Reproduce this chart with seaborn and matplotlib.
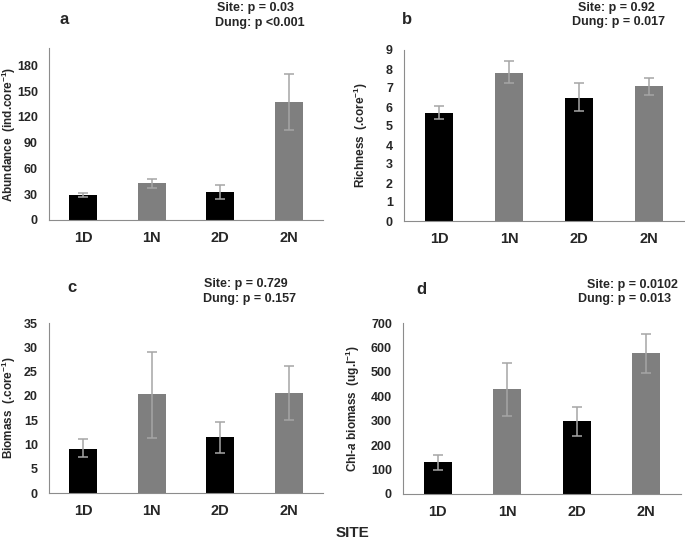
import matplotlib

matplotlib.use("Agg")
import matplotlib.pyplot as plt
import numpy as np
import pandas as pd
import seaborn as sns
from matplotlib.ticker import FixedLocator

SITES = ["1D", "1N", "2D", "2N"]

abundance = [29, 43, 32, 137]
abundance_err_low = [2, 6, 8, 32]
abundance_err_high = [2, 5, 9, 33]

richness = [5.7, 7.8, 6.5, 7.1]
richness_err_low = [0.35, 0.55, 0.7, 0.45]
richness_err_high = [0.35, 0.6, 0.75, 0.45]

biomass = [9.1, 20.3, 11.5, 20.5]
biomass_err_low = [1.7, 8.9, 3.3, 5.5]
biomass_err_high = [2.1, 8.8, 3.2, 5.6]

chla = [132, 428, 298, 577]
chla_err_low = [35, 108, 62, 82]
chla_err_high = [28, 109, 60, 80]

PANELS = [
    dict(letter="a", values=abundance, lo=abundance_err_low, hi=abundance_err_high,
         ylabel=r"Abundance  (ind.core$^{-1}$)", ymax=200, step=30, ytop=180,
         stats=["Site: p = 0.03", "Dung: p <0.001"]),
    dict(letter="b", values=richness, lo=richness_err_low, hi=richness_err_high,
         ylabel=r"Richness  (.core$^{-1}$)", ymax=9, step=1, ytop=9,
         stats=["Site: p = 0.92", "Dung: p = 0.017"]),
    dict(letter="c", values=biomass, lo=biomass_err_low, hi=biomass_err_high,
         ylabel=r"Biomass  (.core$^{-1}$)", ymax=35, step=5, ytop=35,
         stats=["Site: p = 0.729", "Dung: p = 0.157"]),
    dict(letter="d", values=chla, lo=chla_err_low, hi=chla_err_high,
         ylabel=r"Chl-$\mathit{a}$ biomass  (ug.l$^{-1}$)", ymax=700, step=100, ytop=700,
         stats=["Site: p = 0.0102", "Dung: p = 0.013"]),
]

# layout in pixels for a 685x546 figure
W, H = 685, 546
BOXES = [(49, 48, 323, 220), (404, 50, 684, 221), (49, 323, 323, 493), (403, 323, 681, 494)]
YLABEL_X = [18, 370, 18, 362]  # right edge of the rotated label
LETTER_POS = [(60, 19), (402, 19), (67, 288), (416, 290)]
STATS_POS = [((217, 8), (215, 23)), ((578, 8), (572, 22)),
             ((204, 284), (203, 299)), ((587, 285), (578, 299))]

GREY_AXIS = "#8c8c8c"
palette = {"1D": "black", "1N": "#7f7f7f", "2D": "black", "2N": "#7f7f7f"}

sns.set_style("white")
plt.rcParams["font.family"] = ["Liberation Sans", "DejaVu Sans"]
plt.rcParams["font.weight"] = "bold"
plt.rcParams["mathtext.fontset"] = "custom"
plt.rcParams["mathtext.rm"] = "Liberation Sans:bold"
plt.rcParams["mathtext.it"] = "Liberation Sans:italic:bold"
plt.rcParams["mathtext.bf"] = "Liberation Sans:bold"

fig = plt.figure(figsize=(W / 100, H / 100), dpi=100)

for panel, box, ylx, lpos, spos in zip(PANELS, BOXES, YLABEL_X, LETTER_POS, STATS_POS):
    left, top, right, bottom = box
    ax = fig.add_axes([left / W, 1 - bottom / H, (right - left) / W, (bottom - top) / H])
    df = pd.DataFrame({"site": SITES, "value": panel["values"]})
    sns.barplot(data=df, x="site", y="value", hue="site", palette=palette,
                order=SITES, width=0.41, saturation=1, errorbar=None,
                legend=False, ax=ax, linewidth=0)
    ax.errorbar(np.arange(len(SITES)), panel["values"], yerr=[panel["lo"], panel["hi"]],
                fmt="none", ecolor="#a6a6a6", elinewidth=1.1, capsize=3.5, capthick=1.1)

    ax.set_xlim(-0.5, 3.5)
    ax.set_ylim(0, panel["ymax"])
    ax.yaxis.set_major_locator(FixedLocator(np.arange(0, panel["ytop"] + 1e-9, panel["step"])))
    ax.xaxis.set_minor_locator(FixedLocator([0.5, 1.5, 2.5, 3.5]))
    ax.tick_params(axis="x", which="major", length=0, pad=8, labelsize=10.5)
    ax.tick_params(axis="x", which="minor", length=4, color=GREY_AXIS, width=0.8, direction="out")
    ax.tick_params(axis="y", length=4, color=GREY_AXIS, width=0.8, direction="out",
                   labelsize=9, pad=4)
    for lab in ax.get_xticklabels() + ax.get_yticklabels():
        lab.set_fontweight("bold")
    for side in ["top", "right"]:
        ax.spines[side].set_visible(False)
    for side in ["left", "bottom"]:
        ax.spines[side].set_color(GREY_AXIS)
        ax.spines[side].set_linewidth(0.8)
    ax.set_xlabel("")
    ax.set_ylabel(panel["ylabel"], fontsize=8.5, fontweight="bold")
    ax.yaxis.set_label_coords((ylx - left) / (right - left), 0.5)

    fig.text(lpos[0] / W, 1 - lpos[1] / H, panel["letter"], fontsize=12,
             fontweight="bold", ha="left", va="center")
    for (sx, sy), line in zip(spos, panel["stats"]):
        fig.text(sx / W, 1 - sy / H, line, fontsize=9, fontweight="bold",
                 ha="left", va="center")

fig.text(352 / W, 1 - 533 / H, "SITE", fontsize=11, fontweight="bold",
         ha="center", va="center")

fig.savefig("out.png", dpi=100)
